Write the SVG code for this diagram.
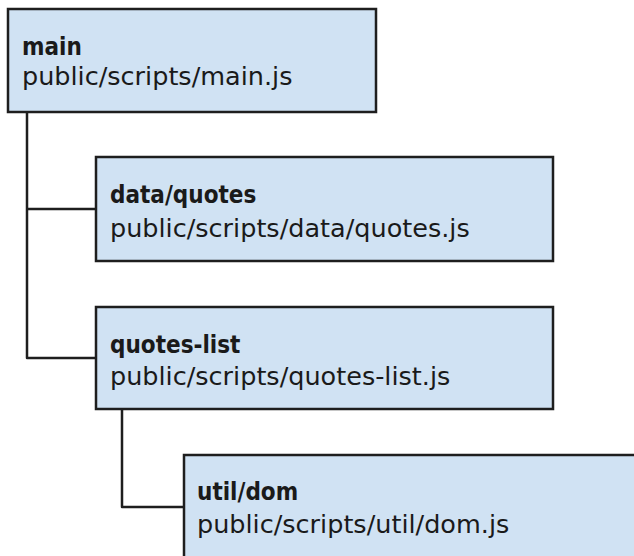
<svg xmlns="http://www.w3.org/2000/svg" width="634" height="556" viewBox="0 0 634 556">
<style>
.box{fill:#d0e2f3;stroke:#1e1e1e;stroke-width:2.5}
.t{font-family:"DejaVu Sans",sans-serif;font-size:25.5px;fill:#1a1a1a}
.b{font-weight:bold;font-size:24px;font-stretch:condensed}
.c{fill:none;stroke:#1e1e1e;stroke-width:2.5;stroke-linejoin:round}
</style>
<rect width="634" height="556" fill="#ffffff"/>
<g id="connectors">
<path class="c" d="M27 112 V358 H96"/>
<path class="c" d="M27 209 H96"/>
<path class="c" d="M122 409 V507 H184"/>
</g>
<g id="main">
<rect class="box" x="8" y="9" width="368" height="103"/>
<text class="t b" x="22" y="55">main</text>
<text class="t" x="22" y="85">public/scripts/main.js</text>
</g>
<g id="data-quotes">
<rect class="box" x="96" y="157" width="457" height="104"/>
<text class="t b" x="110" y="203">data/quotes</text>
<text class="t" x="110" y="237">public/scripts/data/quotes.js</text>
</g>
<g id="quotes-list">
<rect class="box" x="96" y="307" width="457" height="102"/>
<text class="t b" x="110" y="353">quotes-list</text>
<text class="t" x="110" y="385">public/scripts/quotes-list.js</text>
</g>
<g id="util-dom">
<rect class="box" x="184" y="455" width="460" height="110"/>
<text class="t b" x="197" y="500">util/dom</text>
<text class="t" x="197" y="533">public/scripts/util/dom.js</text>
</g>
</svg>
